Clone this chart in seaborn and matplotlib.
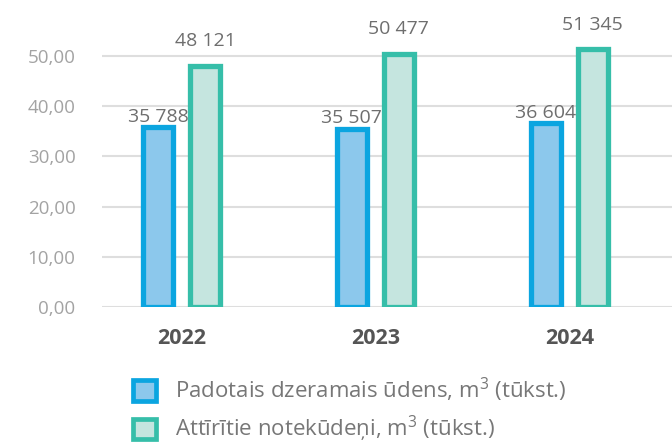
import pandas as pd
import matplotlib
matplotlib.use("Agg")
import matplotlib.pyplot as plt
import matplotlib.patches as mpatches
from matplotlib.ticker import FuncFormatter
import seaborn as sns

# data (thousand m3)
years = ["2022", "2023", "2024"]
series_names = [r"Padotais dzeramais ūdens, m$^{\mathregular{3}}$ (tūkst.)",
                r"Attīrītie notekūdeņi, m$^{\mathregular{3}}$ (tūkst.)"]
drinking_water = [35.788, 35.507, 36.604]
waste_water = [48.121, 50.477, 51.345]
y_ticks = [0, 10, 20, 30, 40, 50]

fills = ["#8CC8EC", "#C5E5DF"]
edges = ["#0BA5E0", "#36BEA9"]

sns.set_style("white")
plt.rcParams["font.family"] = ["Open Sans", "DejaVu Sans"]
plt.rcParams["mathtext.fontset"] = "custom"
plt.rcParams["mathtext.rm"] = "Open Sans"

df = pd.DataFrame({
    "year": years * 2,
    "series": [series_names[0]] * 3 + [series_names[1]] * 3,
    "value": drinking_water + waste_water,
})

fig = plt.figure(figsize=(6.72, 4.45), dpi=100)
ax = fig.add_axes([102 / 672, 138 / 445, 570 / 672, 276 / 445])

sns.barplot(data=df, x="year", y="value", hue="series", palette=fills,
            saturation=1, width=0.484, gap=0.36, legend=False, ax=ax, zorder=3)

values = [drinking_water, waste_water]
pads = [1, 11]
for cont, ec, vals, pad in zip(ax.containers, edges, values, pads):
    for bar in cont:
        bar.set_edgecolor(ec)
        bar.set_linewidth(3.8)
    labels = [f"{round(v * 1000):,}".replace(",", " ") for v in vals]
    ax.bar_label(cont, labels=labels, padding=pad, fontsize=14,
                 color="#6E6E6E", clip_on=False)

ax.set_xlim(-0.41, 2.53)
ax.set_ylim(0, 55)
ax.set_yticks(y_ticks)
ax.yaxis.set_major_formatter(FuncFormatter(lambda v, p: f"{v:.2f}".replace(".", ",")))
ax.grid(axis="y", color="#DEDEDE", linewidth=1.5, zorder=0)
ax.set_axisbelow(True)
sns.despine(ax=ax, left=True, bottom=True)
ax.tick_params(axis="y", length=0, pad=19, labelsize=13.5, labelcolor="#A3A3A3")
ax.tick_params(axis="x", length=0, pad=15, labelsize=15.5, labelcolor="#555555")
for t in ax.get_xticklabels():
    t.set_fontweight("bold")
ax.set_xlabel("")
ax.set_ylabel("")

handles = [mpatches.Patch(facecolor=f, edgecolor=e, linewidth=3.4, label=n)
           for f, e, n in zip(fills, edges, series_names)]
fig.legend(handles=handles, loc="center left", bbox_to_anchor=(122 / 672, 35 / 445),
           frameon=False, fontsize=16, handlelength=1.05, handleheight=1.05,
           handletextpad=0.85, labelspacing=0.45, borderpad=0, labelcolor="#777777")

fig.savefig("out.png", dpi=100)
